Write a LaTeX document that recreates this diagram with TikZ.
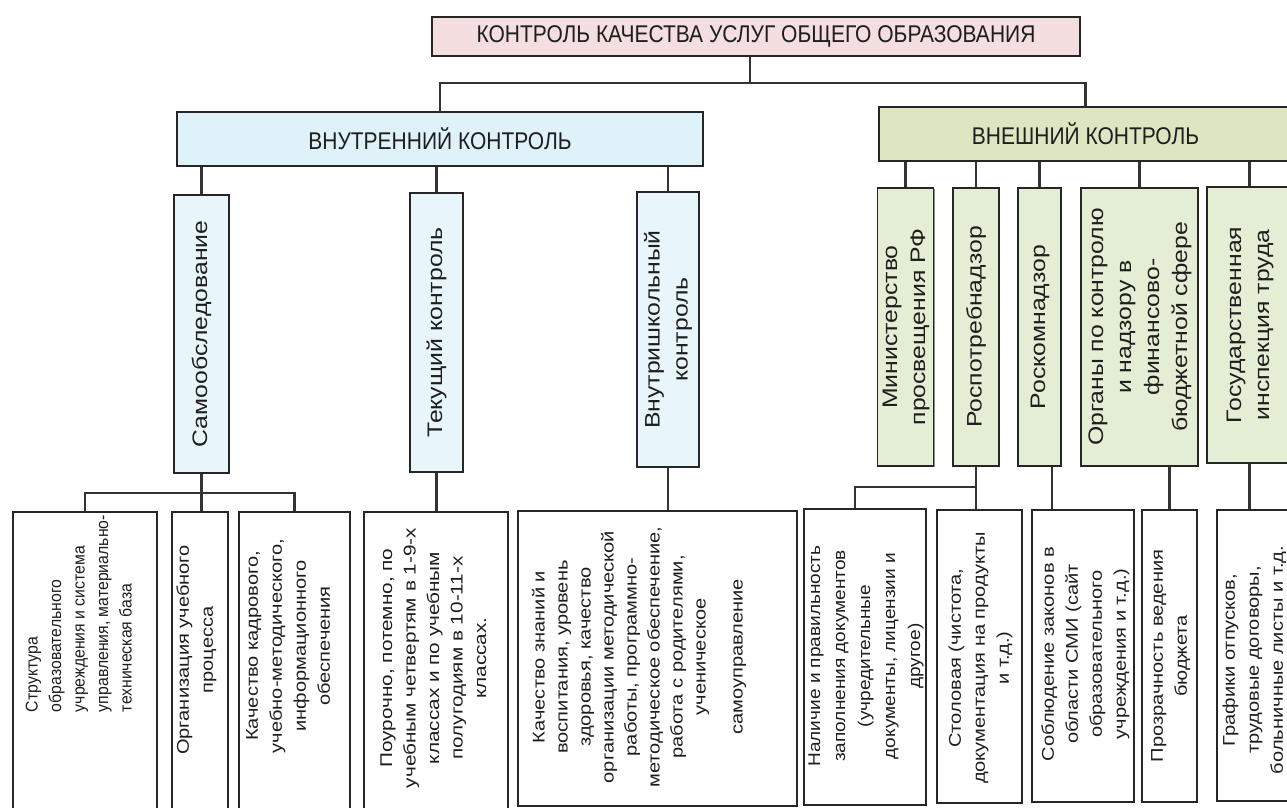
\documentclass[tikz,border=0pt]{standalone}
\usepackage{fontspec}
\setmainfont{Liberation Sans}
\usetikzlibrary{shadows}
\pgfdeclarelayer{background}
\pgfsetlayers{background,main}
\definecolor{titlefill}{HTML}{F4DEDF}
\definecolor{intfill}{HTML}{DFF2F9}
\definecolor{intsub}{HTML}{E8F6FB}
\definecolor{extfill}{HTML}{DCE7C2}
\definecolor{extsub}{HTML}{E4EED4}
\definecolor{ink}{HTML}{1E1E1E}
% rotated text: #1 vertical stretch, #2 size, #3 skip, #4 align, #5 text
\newcommand{\RT}[5]{\scalebox{1}[#1]{\rotatebox{90}{\fontsize{#2}{#3}\selectfont\begin{tabular}{@{}#4@{}}#5\end{tabular}}}}
\newcommand{\HT}[1]{\scalebox{1}[1.15]{\fontsize{21}{24}\selectfont #1}}
\newcommand{\MT}[1]{\RT{1.18}{21}{28}{c}{#1}}
\newcommand{\BT}[2]{\RT{1.18}{17}{24}{#1}{#2}}
\tikzset{
  box/.style={draw=black!85, line width=1.5pt, inner sep=0pt, outer sep=0pt, text=ink,
    drop shadow={shadow xshift=1.3pt, shadow yshift=-1.3pt, fill=black!45, opacity=1}},
  conn/.style={draw=black!80, line width=2.6pt},
  txt/.style={inner sep=0pt, outer sep=0pt, text=ink}
}
\begin{document}
\begin{tikzpicture}[x=1pt,y=-1pt]
\clip (0,0) rectangle (1287,808);
% top level
\node[box, fill=titlefill, minimum width=648pt, minimum height=39pt] (title) at (756,36.5) {\HT{КОНТРОЛЬ КАЧЕСТВА УСЛУГ ОБЩЕГО ОБРАЗОВАНИЯ}};
\node[box, fill=intfill, minimum width=526pt, minimum height=54pt] (int) at (440,139) {\HT{ВНУТРЕННИЙ КОНТРОЛЬ}};
\node[box, fill=extfill, minimum width=413pt, minimum height=54pt] (ext) at (1085.5,134) {\HT{ВНЕШНИЙ КОНТРОЛЬ}};
% internal middle
\node[box, fill=intsub, minimum width=55pt, minimum height=278pt] (samo) at (201.5,334) {\MT{Самообследование}};
\node[box, fill=intsub, minimum width=53pt, minimum height=279pt] (tek) at (436.5,332.5) {\MT{Текущий контроль}};
\node[box, fill=intsub, minimum width=62pt, minimum height=275pt] (vsh) at (668,329.5) {\MT{Внутришкольный\\ контроль}};
% external middle
\node[box, fill=extsub, minimum width=55pt, minimum height=278pt] (min) at (905.5,327) {\MT{Министерство\\ просвещения РФ}};
\node[box, fill=extsub, minimum width=46pt, minimum height=278pt] (rpn) at (976,327) {\MT{Роспотребнадзор}};
\node[box, fill=extsub, minimum width=43pt, minimum height=278pt] (rkn) at (1039.5,327) {\MT{Роскомнадзор}};
\node[box, fill=extsub, minimum width=117pt, minimum height=278pt] (org) at (1139.5,327) {\MT{Органы по контролю\\ и надзору в\\ финансово-\\ бюджетной сфере}};
\node[box, fill=extsub, minimum width=85pt, minimum height=276pt] (git) at (1249.5,325) {\MT{Государственная\\ инспекция труда}};
% bottom boxes
\node[box, fill=white, minimum width=144pt, minimum height=303pt] (b1) at (85,663.5) {};
\node[box, fill=white, minimum width=56pt, minimum height=303pt] (b2) at (200,663.5) {};
\node[box, fill=white, minimum width=111pt, minimum height=303pt] (b3) at (294.5,663.5) {};
\node[box, fill=white, minimum width=144pt, minimum height=303pt] (b4) at (436,663.5) {};
\node[box, fill=white, minimum width=279pt, minimum height=295pt] (b5) at (657.5,658.5) {};
\node[box, fill=white, minimum width=122pt, minimum height=296pt] (b6) at (865,657) {};
\node[box, fill=white, minimum width=85pt, minimum height=293pt] (b7) at (979.5,656.5) {};
\node[box, fill=white, minimum width=102pt, minimum height=292pt] (b8) at (1083,656) {};
\node[box, fill=white, minimum width=55pt, minimum height=292pt] (b9) at (1169.5,656) {};
\node[box, fill=white, minimum width=83pt, minimum height=291pt] (b10) at (1258.5,655.5) {};
% bottom texts
\node[txt, anchor=south] (b1t) at (80,712) {\RT{0.93}{17}{23.5}{l}{Структура\\ образовательного\\ учреждения и система\\ управления, материально-\\ техническая база}};
\node[txt] (b2t) at (196,650) {\BT{c}{Организация учебного\\ процесса}};
\node[txt] (b3t) at (289,646) {\BT{c}{Качество кадрового,\\ учебно-методического,\\ информационного\\ обеспечения}};
\node[txt] (b4t) at (434.5,658) {\RT{1.22}{17}{23.5}{c}{Поурочно, потемно, по\\ учебным четвертям в 1-9-х\\ классах и по учебным\\ полугодиям в 10-11-х\\ классах.}};
\node[txt] (b5t) at (639,657) {\RT{1.18}{17}{23}{c}{Качество знаний и\\ воспитания, уровень\\ здоровья, качество\\ организации методической\\ работы, программно-\\ методическое обеспечение,\\ работа с родителями,\\ ученическое\\[14pt] самоуправление}};
\node[txt] (b6t) at (865,656) {\RT{1.12}{17}{25}{c}{Наличие и правильность\\ заполнения документов\\ (учредительные\\ документы, лицензии и\\ другое)}};
\node[txt] (b7t) at (980,658) {\BT{c}{Столовая (чистота,\\ документация на продукты\\ и т.д.)}};
\node[txt] (b8t) at (1085,654) {\BT{c}{Соблюдение законов в\\ области СМИ (сайт\\ образовательного\\ учреждения и т.д.)}};
\node[txt] (b9t) at (1170,656) {\BT{c}{Прозрачность ведения\\ бюджета}};
\node[txt] (b10t) at (1254,660) {\BT{c}{Графики отпусков,\\ трудовые договоры,\\ больничные листы и т.д.}};
% connectors
\coordinate (j0) at (750,83);
\coordinate (s1) at (201.5,493);
\coordinate (r1) at (855,487);
\coordinate (k1) at (1052,487);
\begin{pgfonlayer}{background}
\fill[white] (0,0) rectangle (1287,808);
\draw[conn] (title.south -| j0) -- (j0);
\draw[conn] (int.north) |- (j0) -| (ext.north);
\foreach \n in {samo,tek,vsh} \draw[conn] (int.south -| \n.north) -- (\n.north);
\foreach \n in {min,rpn,rkn,org,git} \draw[conn] (ext.south -| \n.north) -- (\n.north);
\draw[conn] (samo.south) -- (samo.south |- b2.north);
\draw[conn] (b1.north) -- (b1.north |- s1) -- (b3.north |- s1) -- (b3.north);
\draw[conn] (tek.south) -- (tek.south |- b4.north);
\draw[conn] (vsh.south) -- (vsh.south |- b5.north);
\draw[conn] (rpn.south) -- (rpn.south |- b7.north);
\draw[conn] (rpn.south |- r1) -- (r1) -- (r1 |- b6.north);
\draw[conn] (rkn.south -| k1) -- (b8.north -| k1);
\draw[conn] (b9.north |- org.south) -- (b9.north);
\draw[conn] (git.south) -- (git.south |- b10.north);
\end{pgfonlayer}
\end{tikzpicture}
\end{document}
